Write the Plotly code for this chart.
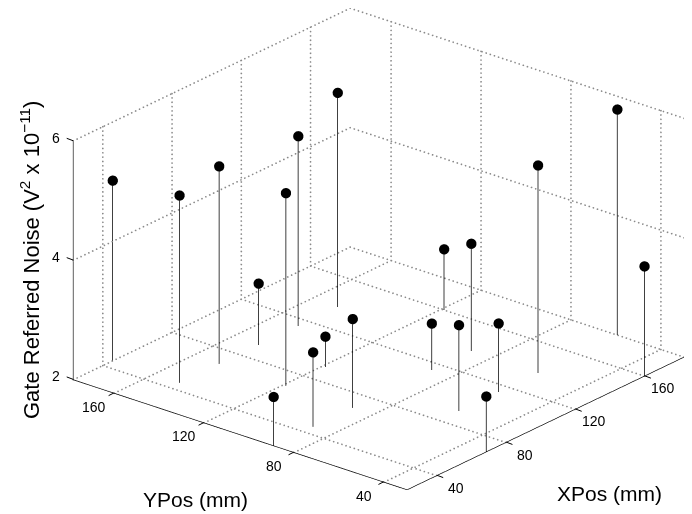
import numpy as np
import plotly.graph_objects as go

# ---- data ----
x_pos = [45.7, 45.7, 68.6, 91.4, 68.6, 114.3, 137.1, 22.9, 45.7, 91.4,
         68.6, 160.0, 137.1, 137.1, 182.9, 160.0, 114.3, 91.4, 114.3, 68.6]
y_pos = [178.2, 148.5, 148.5, 148.5, 118.8, 148.5, 148.5, 89.1, 89.1, 118.8,
         89.1, 118.8, 89.1, 59.4, 59.4, 29.7, 89.1, 59.4, 59.4, 29.7]
noise = [5.02, 5.14, 5.31, 3.03, 5.23, 5.18, 5.59, 2.82, 3.25, 2.51,
         3.49, 3.02, 3.80, 5.48, 5.78, 3.84, 2.78, 3.44, 3.15, 2.93]

x_ticks = [40, 80, 120, 160]
y_ticks = [40, 80, 120, 160]
z_ticks = [2, 4, 6]
x_range = [22.9, 182.9]
y_range = [29.7, 178.2]
z_range = [2, 6]

FONT = "Liberation Sans, Arial, Helvetica, sans-serif"

fig = go.Figure()

# ---- dotted grid (drawn as fine dots) on floor and two back walls ----
gx, gy, gz = [], [], []
def dots(p, q, n):
    t = np.linspace(0.0, 1.0, n)
    gx.extend(p[0] + (q[0] - p[0]) * t)
    gy.extend(p[1] + (q[1] - p[1]) * t)
    gz.extend(p[2] + (q[2] - p[2]) * t)
x0, x1 = x_range; y0, y1 = y_range; z0, z1 = z_range
NX, NY, NZ = 72, 82, 56
for xt in x_ticks:
    dots((xt, y0, z0), (xt, y1, z0), NY)
    dots((xt, y1, z0), (xt, y1, z1), NZ)
for yt in y_ticks:
    dots((x0, yt, z0), (x1, yt, z0), NX)
    dots((x1, yt, z0), (x1, yt, z1), NZ)
for zt in z_ticks:
    dots((x0, y1, zt), (x1, y1, zt), NX)
    dots((x1, y0, zt), (x1, y1, zt), NY)
fig.add_trace(go.Scatter3d(x=gx, y=gy, z=gz, mode="markers",
                           marker=dict(size=1, color="#8a8a8a", line=dict(width=0)),
                           hoverinfo="skip", showlegend=False))

# ---- stems ----
sx, sy, sz = [], [], []
for xv, yv, zv in zip(x_pos, y_pos, noise):
    sx += [xv, xv, None]; sy += [yv, yv, None]; sz += [z0, zv, None]
fig.add_trace(go.Scatter3d(x=sx, y=sy, z=sz, mode="lines",
                           line=dict(color="black", width=1.5),
                           hoverinfo="skip", showlegend=False))
fig.add_trace(go.Scatter3d(x=x_pos, y=y_pos, z=noise, mode="markers",
                           marker=dict(size=6, color="black", line=dict(width=0)),
                           showlegend=False))

axis_common = dict(showbackground=False, showgrid=False, zeroline=False,
                   showspikes=False, showline=True, linecolor="black", linewidth=1.5,
                   ticks="", showticklabels=False,
                   title=dict(text=""))

tick_font = dict(family=FONT, size=14, color="black")
scene_ann = []
def tick_mark(x, y, z, ax, ay):
    scene_ann.append(dict(x=x, y=y, z=z, text="", showarrow=True, arrowhead=0,
                          arrowwidth=1, arrowcolor="black", ax=ax, ay=ay,
                          standoff=0, startstandoff=0))
for xt in x_ticks:
    tick_mark(xt, y0, z0, 8, 3)
    scene_ann.append(dict(x=xt, y=y0, z=z0, text=str(xt), showarrow=False,
                          xshift=19, yshift=-12.5, font=tick_font))
for yt in y_ticks:
    tick_mark(x0, yt, z0, -7, 3.5)
    scene_ann.append(dict(x=x0, y=yt, z=z0, text=str(yt), showarrow=False,
                          xshift=-20, yshift=-14, font=tick_font))
for zt in z_ticks:
    tick_mark(x0, y1, zt, -8, -3)
    scene_ann.append(dict(x=x0, y=y1, z=zt, text=str(zt), showarrow=False,
                          xshift=-17, yshift=3, font=tick_font))

title_font = dict(family=FONT, size=21, color="black")
fig.update_layout(
    width=692, height=514,
    margin=dict(l=0, r=0, t=0, b=0),
    paper_bgcolor="white",
    template="none",
    scene=dict(
        domain=dict(x=[0.0, 1.0], y=[0.0632, 1.0]),
        xaxis=dict(range=x_range, tickvals=x_ticks, **axis_common),
        yaxis=dict(range=y_range, tickvals=y_ticks, **axis_common),
        zaxis=dict(range=z_range, tickvals=z_ticks, **axis_common),
        aspectmode="manual",
        aspectratio=dict(x=1.80, y=1.80, z=1.08),
        camera=dict(projection=dict(type="orthographic"),
                    center=dict(x=-0.0652, y=0.0787, z=0.0),
                    eye=dict(x=-1.4782, y=-1.0933, z=0.795),
                    up=dict(x=0, y=0, z=1)),
        bgcolor="white",
        annotations=scene_ann,
    ),
    annotations=[
        dict(text="YPos (mm)", x=187 / 692, y=1 - 491 / 514, xref="paper", yref="paper",
             xanchor="center", yanchor="middle", showarrow=False, font=title_font),
        dict(text="XPos (mm)", x=601 / 692, y=1 - 485 / 514, xref="paper", yref="paper",
             xanchor="center", yanchor="middle", showarrow=False, font=title_font),
        dict(text="Gate Referred Noise (V<sup>2</sup> x 10<sup>\u221211</sup>)",
             x=22 / 692, y=1 - 252 / 514, xref="paper", yref="paper", textangle=-90,
             xanchor="center", yanchor="middle", showarrow=False,
             font=dict(family=FONT, size=22, color="black")),
    ],
)

fig.write_html("out.html")
